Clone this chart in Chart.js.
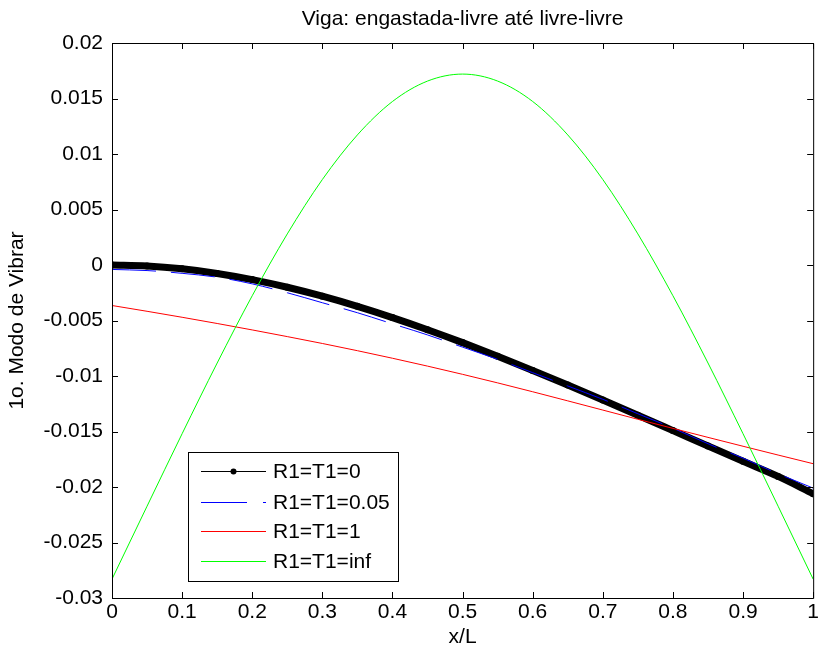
<!DOCTYPE html>
<html>
<head>
<meta charset="utf-8">
<script src="https://cdn.jsdelivr.net/npm/chart.js@4/dist/chart.umd.min.js"></script>
<style>
  html, body { margin: 0; padding: 0; background: #ffffff; }
  #wrap { width: 821px; height: 653px; }
</style>
</head>
<body>
<div id="wrap"><canvas id="c" width="821" height="653"></canvas></div>
<script>
// Posições ao longo da viga (x/L)
const xL = [0, 0.05, 0.1, 0.15, 0.2, 0.25, 0.3, 0.35, 0.4, 0.45, 0.5,
            0.55, 0.6, 0.65, 0.7, 0.75, 0.8, 0.85, 0.9, 0.95, 1];

// Primeiro modo para cada par de rigidezes R1=T1
const modeR0 = [0, -0.000088, -0.000346, -0.000759, -0.001316, -0.002004, -0.002812,
                -0.003726, -0.004736, -0.005829, -0.006993, -0.008221, -0.009499,
                -0.010817, -0.012166, -0.013536, -0.014919, -0.016305, -0.017685,
                -0.019048, -0.0206];
const modeR005 = [-0.0004, -0.0005, -0.00075, -0.0011, -0.0017, -0.0025, -0.0034,
                  -0.0043, -0.0053, -0.0063, -0.0074, -0.0085, -0.0097, -0.0109,
                  -0.0121, -0.0134, -0.0147, -0.0161, -0.0174, -0.0188, -0.0201];
const modeR1 = [-0.00365, -0.00417, -0.00471, -0.00527, -0.00585, -0.00645, -0.00707,
                -0.00772, -0.0084, -0.00911, -0.00985, -0.01062, -0.01142, -0.01224,
                -0.01307, -0.0139, -0.01472, -0.01553, -0.01633, -0.01712, -0.0179];
const modeRinf = [-0.0283, -0.02173, -0.0152, -0.00883, -0.00277, 0.0028, 0.0077,
                  0.01172, 0.01473, 0.01657, 0.0172, 0.01657, 0.01473, 0.01172,
                  0.0077, 0.0028, -0.00277, -0.00883, -0.0152, -0.02173, -0.0283];

const seriesLabels = ['R1=T1=0', 'R1=T1=0.05', 'R1=T1=1', 'R1=T1=inf'];
const seriesColors = ['#000000', '#0000ff', '#ff0000', '#00ff00'];
const chartTitle = 'Viga: engastada-livre até livre-livre';

const xTicks = [0, 0.1, 0.2, 0.3, 0.4, 0.5, 0.6, 0.7, 0.8, 0.9, 1];
const yTicks = [-0.03, -0.025, -0.02, -0.015, -0.01, -0.005, 0, 0.005, 0.01, 0.015, 0.02];

const FONT = 'Liberation Sans, Arial, sans-serif';
const FS = 21;

function pts(ys) { return xL.map((x, i) => ({ x: x, y: ys[i] })); }

// Título centrado sobre a área dos eixos
const axesTitle = {
  id: 'axesTitle',
  afterDraw(chart) {
    const { ctx, chartArea: a } = chart;
    ctx.save();
    ctx.font = FS + 'px ' + FONT;
    ctx.fillStyle = '#000';
    ctx.textAlign = 'center';
    ctx.textBaseline = 'middle';
    ctx.fillText(chartTitle, (a.left + a.right) / 2, a.top - 24);
    ctx.restore();
  }
};

// Marcas de escala voltadas para dentro nos quatro lados (caixa fechada)
const boxTicks = {
  id: 'boxTicks',
  afterDraw(chart) {
    const { ctx, chartArea: a, scales } = chart;
    const len = 6;
    ctx.save();
    ctx.strokeStyle = '#000';
    ctx.lineWidth = 1;
    ctx.beginPath();
    ctx.rect(a.left + 0.5, a.top + 0.5, a.right - a.left, a.bottom - a.top);
    xTicks.forEach(v => {
      const px = Math.round(scales.x.getPixelForValue(v)) + 0.5;
      ctx.moveTo(px, a.bottom); ctx.lineTo(px, a.bottom - len);
      ctx.moveTo(px, a.top); ctx.lineTo(px, a.top + len);
    });
    yTicks.forEach(v => {
      const py = Math.round(scales.y.getPixelForValue(v)) + 0.5;
      ctx.moveTo(a.left, py); ctx.lineTo(a.left + len, py);
      ctx.moveTo(a.right, py); ctx.lineTo(a.right - len, py);
    });
    ctx.stroke();
    ctx.restore();
  }
};

// Legenda em caixa, no canto inferior esquerdo da área do gráfico
const boxLegend = {
  id: 'boxLegend',
  afterDraw(chart) {
    const { ctx, chartArea: a } = chart;
    const x0 = Math.round(a.left + 76), w = 210, h = 129;
    const y0 = Math.round(a.bottom - 17 - h);
    ctx.save();
    ctx.fillStyle = '#fff';
    ctx.fillRect(x0, y0, w, h);
    ctx.strokeStyle = '#000';
    ctx.lineWidth = 1;
    ctx.strokeRect(x0 + 0.5, y0 + 0.5, w, h);
    const rows = [19, 50, 79, 109];
    const lx0 = x0 + 13, lx1 = x0 + 78, tx = x0 + 85;
    ctx.font = FS + 'px ' + FONT;
    ctx.textBaseline = 'middle';
    ctx.textAlign = 'left';
    rows.forEach((dy, i) => {
      const y = y0 + dy;
      ctx.fillStyle = seriesColors[i];
      if (i === 1) {
        ctx.fillRect(lx0, y, 46, 1);
        ctx.fillRect(lx0 + 62, y, 3, 1);
      } else {
        ctx.fillRect(lx0, y, lx1 - lx0, 1);
      }
      if (i === 0) {
        ctx.beginPath(); ctx.arc((lx0 + lx1) / 2, y + 0.5, 3, 0, Math.PI * 2); ctx.fill();
      }
      ctx.fillStyle = '#000';
      ctx.fillText(seriesLabels[i], tx, y + 1);
    });
    ctx.restore();
  }
};

new Chart(document.getElementById('c'), {
  type: 'line',
  data: {
    datasets: [
      { label: seriesLabels[0], data: pts(modeR0), borderColor: seriesColors[0], backgroundColor: seriesColors[0],
        borderWidth: 7, pointRadius: 3.5, pointBorderWidth: 0, cubicInterpolationMode: 'monotone',
        borderCapStyle: 'round', borderJoinStyle: 'round', order: 4 },
      { label: seriesLabels[1], data: pts(modeR005), borderColor: seriesColors[1],
        borderWidth: 1, pointRadius: 0, borderDash: [44, 15], cubicInterpolationMode: 'monotone', order: 3 },
      { label: seriesLabels[2], data: pts(modeR1), borderColor: seriesColors[2],
        borderWidth: 1, pointRadius: 0, cubicInterpolationMode: 'monotone', order: 2 },
      { label: seriesLabels[3], data: pts(modeRinf), borderColor: seriesColors[3],
        borderWidth: 1, pointRadius: 0, cubicInterpolationMode: 'monotone', order: 1 }
    ]
  },
  options: {
    responsive: false,
    animation: false,
    events: [],
    layout: { padding: { left: 0, right: 5, top: 43, bottom: 0 } },
    plugins: {
      legend: { display: false },
      tooltip: { enabled: false },
      title: { display: false }
    },
    scales: {
      x: {
        type: 'linear', min: 0, max: 1,
        afterFit(s) { s.height = 55; },
        afterBuildTicks(s) { s.ticks = xTicks.map(v => ({ value: v })); },
        grid: { display: false, drawTicks: false },
        border: { display: false },
        ticks: { color: '#000', padding: 2, maxRotation: 0, autoSkip: false,
                 font: { family: FONT, size: FS }, callback: v => String(v) },
        title: { display: true, text: 'x/L', color: '#000',
                 font: { family: FONT, size: FS }, padding: { top: 0, bottom: 3 } }
      },
      y: {
        type: 'linear', min: -0.03, max: 0.02,
        afterFit(s) { s.width = 112; },
        afterBuildTicks(s) { s.ticks = yTicks.map(v => ({ value: v })); },
        grid: { display: false, drawTicks: false },
        border: { display: false },
        ticks: { color: '#000', padding: 9, autoSkip: false,
                 font: { family: FONT, size: FS },
                 callback: v => String(Math.round(v * 1000) / 1000) },
        title: { display: true, text: '1o. Modo de Vibrar', color: '#000',
                 font: { family: FONT, size: FS }, padding: { top: 5, bottom: 0 } }
      }
    }
  },
  plugins: [boxTicks, boxLegend, axesTitle]
});
</script>
</body>
</html>
